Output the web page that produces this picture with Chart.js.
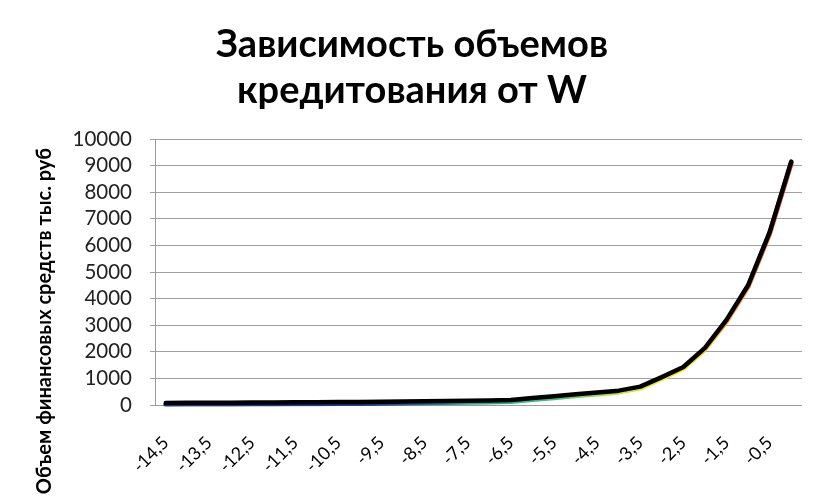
<!DOCTYPE html>
<html>
<head>
<meta charset="utf-8">
<script src="https://cdn.jsdelivr.net/npm/chart.js@4/dist/chart.umd.min.js"></script>
<style>
html,body{margin:0;padding:0;background:#fff;}
#wrap{width:834px;height:499px;position:relative;}
</style>
</head>
<body>
<div id="wrap"><canvas id="c" width="834" height="499"></canvas></div>
<script>
const titleLines = ['Зависимость объемов', 'кредитования от W'];
const yAxisTitle = 'Объем финансовых средств тыс. руб';
const categories = ['-14,5','-14','-13,5','-13','-12,5','-12','-11,5','-11','-10,5','-10',
  '-9,5','-9','-8,5','-8','-7,5','-7','-6,5','-6','-5,5','-5',
  '-4,5','-4','-3,5','-3','-2,5','-2','-1,5','-1','-0,5','0'];
const values = [75,80,84,88,92,96,100,105,110,115,
  122,130,140,150,160,172,188,260,330,400,
  470,540,690,1050,1430,2150,3200,4500,6500,9150];
const yMin = 0, yMax = 10000, yStep = 1000;

const FONT = 'Lato, Carlito, "Liberation Sans", sans-serif';

function gradient(ctx, area){
  const g = ctx.createLinearGradient(area.left, 0, area.right, 0);
  g.addColorStop(0, '#1f2a8a');
  g.addColorStop(0.35, '#1f3f90');
  g.addColorStop(0.5, '#20a89a');
  g.addColorStop(0.62, '#3fc080');
  g.addColorStop(0.72, '#c8e830');
  g.addColorStop(0.82, '#ffee00');
  g.addColorStop(0.9, '#ff9a30');
  g.addColorStop(1, '#d02020');
  return g;
}

const decor = {
  id: 'decor',
  beforeDatasetDraw(chart, args){
    if (args.index === 1){ chart.ctx.save(); chart.ctx.translate(0, 1.5); }
  },
  afterDatasetDraw(chart, args){
    if (args.index === 1){ chart.ctx.restore(); }
  },
  afterDraw(chart){
    const ctx = chart.ctx;
    ctx.save();
    ctx.fillStyle = '#000';
    ctx.textAlign = 'center';
    ctx.textBaseline = 'alphabetic';
    ctx.font = 'bold 38px ' + FONT;
    ctx.fillText(titleLines[0], 412, 57);
    ctx.fillText(titleLines[1], 412, 103);
    ctx.translate(45, 321);
    ctx.rotate(-Math.PI/2);
    ctx.textBaseline = 'middle';
    ctx.font = 'bold 20px ' + FONT;
    ctx.fillText(yAxisTitle, 0, 0);
    ctx.restore();
  }
};

new Chart(document.getElementById('c'), {
  type: 'line',
  data: {
    labels: categories,
    datasets: [
      {
        data: values,
        borderColor: '#000',
        borderWidth: 4.5,
        pointRadius: 0,
        tension: 0,
        fill: false,
        borderCapStyle: 'round',
        borderJoinStyle: 'round',
        order: 1
      },
      {
        data: values,
        borderColor(ctx){
          const a = ctx.chart.chartArea;
          if (!a) return '#1f2a8a';
          return gradient(ctx.chart.ctx, a);
        },
        borderWidth: 5,
        pointRadius: 0,
        tension: 0,
        fill: false,
        borderCapStyle: 'round',
        borderJoinStyle: 'round',
        order: 2
      }
    ]
  },
  options: {
    responsive: false,
    animation: false,
    devicePixelRatio: 1,
    layout: { padding: { left: 0, right: 31, top: 139, bottom: 0 } },
    plugins: { legend: { display: false }, tooltip: { enabled: false }, title: { display: false } },
    scales: {
      x: {
        type: 'category',
        offset: true,
        grid: { display: false, drawTicks: false },
        border: { display: true, color: '#9a9a9a', width: 1 },
        ticks: {
          autoSkip: false,
          maxRotation: 45,
          minRotation: 45,
          padding: 27,
          color: '#000',
          font: { family: FONT, size: 18 },
          callback(v, i){ return i % 2 === 0 ? categories[i] : ''; }
        },
        afterFit(s){ s.height = 94; }
      },
      y: {
        min: yMin,
        max: yMax,
        grid: { color: '#a0a0a0', lineWidth: 1, tickLength: 5, drawTicks: true },
        border: { display: true, color: '#9a9a9a', width: 1 },
        ticks: {
          stepSize: yStep,
          autoSkip: false,
          padding: 18,
          color: '#222',
          font: { family: FONT, size: 20.5 },
          callback(v){ return String(v); }
        },
        afterFit(s){ s.width = 155; }
      }
    }
  },
  plugins: [decor]
});
</script>
</body>
</html>
